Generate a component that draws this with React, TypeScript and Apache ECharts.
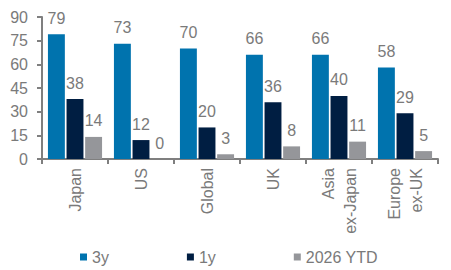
import React, { useEffect, useRef } from "react";
import * as echarts from "echarts";

const categories = ["Japan", "US", "Global", "UK", "Asia\nex-Japan", "Europe\nex-UK"];
const seriesNames = ["3y", "1y", "2026 YTD"];
const values3y = [79, 73, 70, 66, 66, 58];
const values1y = [38, 12, 20, 36, 40, 29];
const valuesYtd = [14, 0, 3, 8, 11, 5];
const colors = ["#0073AE", "#001E42", "#95969A"];

export default function App() {
  const ref = useRef<HTMLDivElement>(null);
  useEffect(() => {
    if (!ref.current) return;
    const chart = echarts.init(ref.current, undefined, { renderer: "svg" });
    const labelColor = "#7a7a7a";
    const font = "Liberation Sans, Arial, sans-serif";
    const fs = 16;
    const mk = (name: string, data: number[], color: string) => ({
      name,
      type: "bar",
      data,
      barCategoryGap: "18%",
      barGap: "10%",
      itemStyle: { color },
      label: {
        show: true,
        position: "top",
        distance: 8,
        color: labelColor,
        fontSize: fs,
        fontFamily: font,
      },
    });
    chart.setOption({
      animation: false,
      textStyle: { fontFamily: font },
      grid: { left: 42, right: 13, top: 17, bottom: 111, containLabel: false },
      legend: {
        left: 75,
        bottom: 0,
        itemWidth: 7,
        itemHeight: 7,
        itemGap: 78,
        icon: "rect",
        textStyle: { color: labelColor, fontSize: fs, fontFamily: font },
        data: seriesNames,
      },
      xAxis: {
        type: "category",
        data: categories,
        axisLine: { lineStyle: { color: "#7f7f7f", width: 2 } },
        axisTick: { show: true, length: 5, lineStyle: { color: "#7f7f7f", width: 2 } },
        axisLabel: {
          rotate: 90,
          color: labelColor,
          fontSize: fs,
          fontFamily: font,
          margin: 9,
          lineHeight: 22,
        },
      },
      yAxis: {
        type: "value",
        min: 0,
        max: 90,
        interval: 15,
        splitLine: { show: false },
        axisLine: { show: true, lineStyle: { color: "#7f7f7f", width: 2 } },
        axisTick: { show: true, length: 5, lineStyle: { color: "#7f7f7f", width: 2 } },
        axisLabel: { color: labelColor, fontSize: fs, fontFamily: font, margin: 14 },
      },
      series: [
        mk(seriesNames[0], values3y, colors[0]),
        mk(seriesNames[1], values1y, colors[1]),
        mk(seriesNames[2], valuesYtd, colors[2]),
      ],
    });
    return () => chart.dispose();
  }, []);
  return <div ref={ref} style={{ width: 451, height: 270, position: "absolute", left: 0, top: 0 }} />;
}
